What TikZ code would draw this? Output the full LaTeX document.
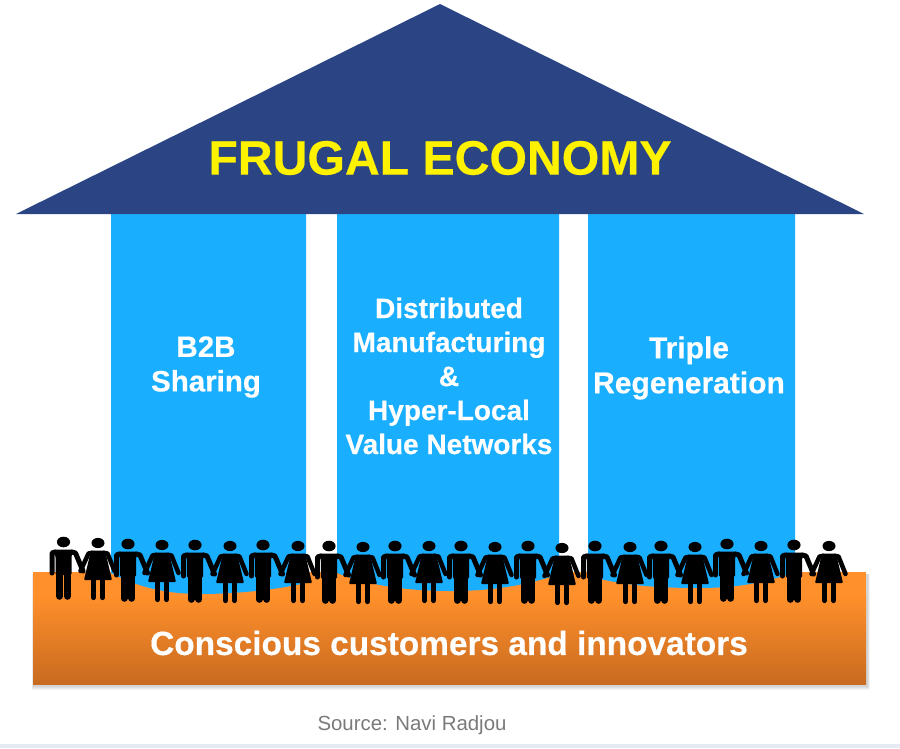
\documentclass[tikz,border=0pt]{standalone}
\usepackage{fontspec}
\setmainfont{Liberation Sans}
\definecolor{roofblue}{HTML}{2A4484}
\definecolor{pillarblue}{HTML}{1AAEFF}
\definecolor{orangetop}{HTML}{FF902B}
\definecolor{orangebot}{HTML}{C86A20}
\definecolor{srcgray}{HTML}{7A7A7A}
\definecolor{stripcol}{HTML}{E6EBF3}
\newcommand{\heavy}[2]{\bfseries\addfontfeatures{FakeBold=0.4}\fontsize{#1}{#2}\selectfont}
\tikzset{
  x=1pt,y=-1pt,
  pillar/.style={fill=pillarblue,draw=none},
  pillartext/.style={text=white,align=center,inner sep=0pt},
  softshadow/.style={fill=black,opacity=.045},
  limb/.style={line width=#1,line cap=round,line join=round,draw=black},
  man/.pic={
    \fill[black] (0,0) ellipse [x radius=6.6,y radius=5.3];
    \fill[black,rounded corners=1.5] (-10,7.5) -- (10,7.5) -- (8,14) -- (8,33) -- (-8,33) -- (-8,14) -- cycle;
    \draw[limb=7] (-3.9,30) -- (-3.9,54.3);
    \draw[limb=7] (3.9,30) -- (3.9,54.3);
    \draw[limb=5] (-8.5,10) -- (-11.5,11) -- (-11.5,31);
    \draw[limb=5] (8.5,10) -- (12,11) -- (19.5,29);
  },
  woman/.pic={
    \fill[black] (0,0) ellipse [x radius=6.5,y radius=5.1];
    \fill[black,rounded corners=1] (-7,7.5) -- (7,7.5) -- (14,37) -- (-14,37) -- cycle;
    \draw[limb=5.2] (-4.5,35) -- (-4.5,54.5);
    \draw[limb=5.2] (4.5,35) -- (4.5,54.5);
    \draw[limb=4.5] (-6,9.8) -- (-9.5,10.5) -- (-17.5,28);
    \draw[limb=4.5] (6,9.8) -- (9.5,10.5) -- (16.5,28);
  },
}
\begin{document}
\begin{tikzpicture}
\useasboundingbox (0,0) rectangle (900,748);
\fill[white] (0,0) rectangle (900,748);
\fill[stripcol] (0,744) rectangle (900,748);
% base
\fill[softshadow] (31.5,574) rectangle (869.5,689.5);
\fill[softshadow] (32,574) rectangle (869,688.5);
\fill[softshadow] (32.5,574) rectangle (868.5,687.5);
\fill[softshadow] (33,574) rectangle (868,686.5);
\fill[orangetop] (33,572) rectangle (866,596);
\shade[top color=orangetop,bottom color=orangebot] (33,595.5) rectangle (866,684);
% pillars
\fill[pillar] (111,214) -- (306,214) -- (306,583) .. controls (275,590) and (235,594) .. (200,594) .. controls (165,594) and (135,586) .. (111,573) -- cycle;
\fill[pillar] (337,214) -- (559,214) -- (559,574) .. controls (525,586) and (490,591) .. (450,591) .. controls (410,591) and (370,586) .. (337,573) -- cycle;
\fill[pillar] (588,214) -- (795,214) -- (795,572) .. controls (765,583) and (735,588) .. (700,588) .. controls (660,588) and (625,586) .. (588,576) -- cycle;
% roof
\fill[roofblue] (440,4) -- (864,214) -- (16,214) -- cycle;
\node[text=yellow,font=\heavy{48.2}{50},inner sep=0pt] (title) at (440,158) {FRUGAL ECONOMY};
\node[pillartext,font=\heavy{29.5}{34.5}] (p1) at (206,367) {B2B\\Sharing};
\node[pillartext,font=\heavy{28}{34}] (p2) at (449,376) {Distributed\\Manufacturing\\\&\\Hyper-Local\\Value Networks};
\node[pillartext,font=\heavy{30}{35}] (p3) at (689,368) {Triple\\Regeneration};
% people
\foreach \x/\y in {63.5/542,128/544,195/545,263/545,329/546,395/546,461/546,528/546,595/546,661/546,727/544,794/545}
  \pic at (\x,\y) {man};
\foreach \x/\y in {98/543,162/545,230/546,298/546,363/547,429/546,495/547,562/548,630/547,695/547,761/546,829/546}
  \pic at (\x,\y) {woman};
\node[text=white,font=\heavy{33.4}{36},inner sep=0pt] (base) at (449,643) {Conscious customers and innovators};
\node[text=srcgray,font=\fontsize{20.4}{22}\selectfont,inner sep=0pt] (src) at (412,725.5) {Source: Navi Radjou};
\end{tikzpicture}
\end{document}
